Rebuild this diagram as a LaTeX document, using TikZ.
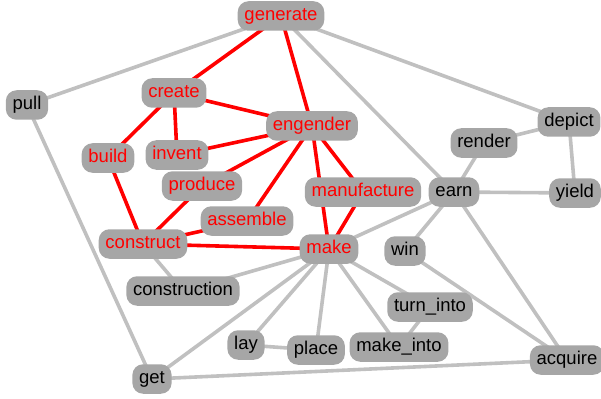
\documentclass[tikz,border=0pt]{standalone}
\usepackage{fontspec}
\setmainfont{Liberation Sans}
\usetikzlibrary{backgrounds}
\definecolor{nodegray}{RGB}{166,166,166}
\definecolor{edgegray}{RGB}{192,192,192}
\definecolor{wred}{RGB}{255,0,0}
\begin{document}
\begin{tikzpicture}[x=1pt,y=-1pt,
  word/.style={fill=nodegray, draw=nodegray, line width=1.5pt, rounded corners=10pt,
    inner xsep=6pt, inner ysep=0pt, minimum height=28pt, text height=13.5pt, text depth=3.8pt,
    font=\fontsize{18.5}{20}\selectfont, text=black},
  redword/.style={word, text=wred},
  redlink/.style={draw=wred, line width=3.6pt},
  graylink/.style={draw=edgegray, line width=3.6pt}]
\useasboundingbox (0,0) rectangle (601,398);
% nodes
\node[redword] (generate) at (281,16) {generate};
\node[word] (pull) at (27,105) {pull};
\node[redword] (create) at (174,93) {create};
\node[redword] (engender) at (312,126) {engender};
\node[redword] (build) at (108,158) {build};
\node[redword] (invent) at (177,155) {invent};
\node[redword] (produce) at (202,186) {produce};
\node[redword] (manufacture) at (363,192) {manufacture};
\node[word] (earn) at (454,192) {earn};
\node[word] (render) at (484,143) {render};
\node[word] (depict) at (569,122) {depict};
\node[word] (yield) at (575,193) {yield};
\node[redword] (assemble) at (247,221) {assemble};
\node[redword] (construct) at (143,244) {construct};
\node[redword] (make) at (329,249) {make};
\node[word] (win) at (405,251) {win};
\node[word] (construction) at (183,291) {construction};
\node[word] (turninto) at (430,307) {turn\_into};
\node[word] (lay) at (246,345) {lay};
\node[word] (place) at (316,350) {place};
\node[word] (makeinto) at (399,347) {make\_into};
\node[word] (acquire) at (567,360) {acquire};
\node[word] (get) at (152,379) {get};
% edges
\begin{scope}[on background layer]
\foreach \a/\b in {generate/pull, generate/depict, generate/earn, pull/get,
  render/depict, render/earn, depict/yield, earn/yield, earn/make, earn/win,
  earn/acquire, win/acquire, construct/construction, construction/make,
  make/get, make/lay, make/place, make/makeinto, make/turninto,
  turninto/makeinto, lay/place, get/acquire}
  \draw[graylink] (\a.center) -- (\b.center);
\foreach \a/\b in {generate/create, generate/engender, create/engender,
  create/build, create/invent, engender/invent, engender/produce,
  engender/assemble, engender/make, engender/manufacture, manufacture/make,
  produce/construct, assemble/construct, construct/make, build/construct}
  \draw[redlink] (\a.center) -- (\b.center);
\end{scope}
\end{tikzpicture}
\end{document}
